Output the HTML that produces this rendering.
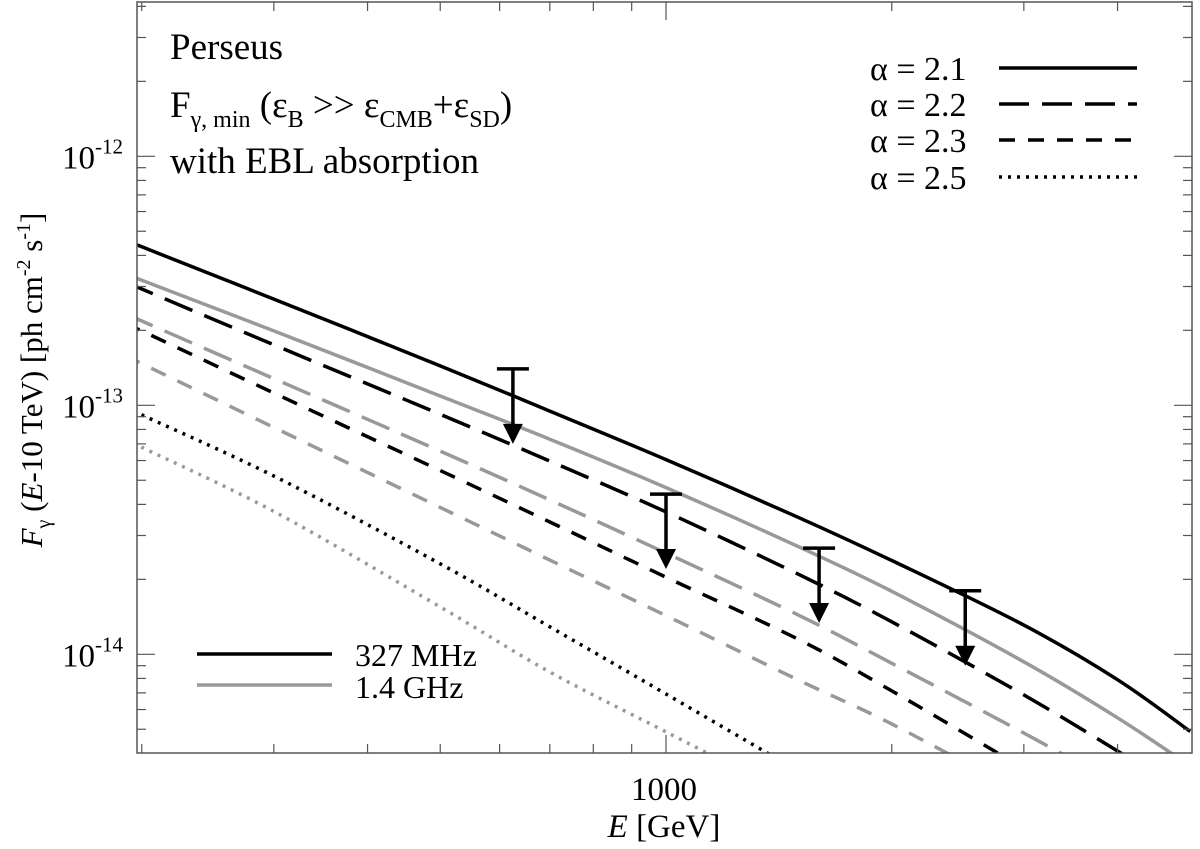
<!DOCTYPE html>
<html><head><meta charset="utf-8"><style>
html,body{margin:0;background:#fff;overflow:hidden;width:1200px;height:849px;}
svg{display:block;font-family:"Liberation Serif",serif;}
</style></head><body>
<svg id="chart" width="1200" height="849">
<g id="curves"></g>
<g id="limits"></g>
<g id="axes"></g>
<g font-size="37">
<text x="170" y="59">Perseus</text>
<text x="170" y="117">F<tspan font-size="24" dy="10">γ, min</tspan><tspan dy="-10"> (ε</tspan><tspan font-size="24" dy="10">B</tspan><tspan dy="-10"> &gt;&gt; ε</tspan><tspan font-size="24" dy="10">CMB</tspan><tspan dy="-10">+ε</tspan><tspan font-size="24" dy="10">SD</tspan><tspan dy="-10">)</tspan></text>
<text x="170" y="173">with EBL absorption</text>
</g>
<g font-size="34" stroke-width="3.5">
<g><text x="870" y="80">α = 2.1</text><line x1="999" y1="68" x2="1137" y2="68" stroke="#000"/></g>
<g><text x="870" y="116">α = 2.2</text><line x1="999" y1="104" x2="1137" y2="104" stroke="#000" stroke-dasharray="30 13"/></g>
<g><text x="870" y="152">α = 2.3</text><line x1="999" y1="140" x2="1137" y2="140" stroke="#000" stroke-dasharray="16 13"/></g>
<g><text x="870" y="189">α = 2.5</text><line x1="999" y1="177" x2="1137" y2="177" stroke="#000" stroke-dasharray="3 6"/></g>
</g>
<g font-size="32" stroke-width="3.5">
<g><line x1="197" y1="654" x2="332" y2="654" stroke="#000"/><text x="355" y="666">327 MHz</text></g>
<g><line x1="197" y1="685" x2="332" y2="685" stroke="#999"/><text x="355" y="698">1.4 GHz</text></g>
</g>
<text x="664" y="800" font-size="33" text-anchor="middle">1000</text>
<text x="664" y="837" font-size="33" text-anchor="middle"><tspan font-style="italic">E</tspan> [GeV]</text>
<text transform="translate(42,380) rotate(-90)" font-size="31" text-anchor="middle"><tspan font-style="italic">F</tspan><tspan font-size="20" dy="8">γ</tspan><tspan dy="-8"> (</tspan><tspan font-style="italic">E</tspan>-10 TeV) [ph cm<tspan font-size="20" dy="-12">-2</tspan><tspan dy="12"> s</tspan><tspan font-size="20" dy="-12">-1</tspan><tspan dy="12">]</tspan></text>
</svg>
<script>
const energies=[200,300,500,700,1000,1500,2000,3000,4000,5000];
const sol327=[4.33e-13,2.67e-13,1.44e-13,9.48e-14,6.05e-14,3.55e-14,2.38e-14,1.31e-14,7.91e-15,4.90e-15];
const sol14=[3.18e-13,1.99e-13,1.09e-13,7.31e-14,4.67e-14,2.71e-14,1.79e-14,9.33e-15,5.56e-15,3.56e-15];
const ld327=[2.93e-13,1.75e-13,9.2e-14,5.97e-14,3.73e-14,2.10e-14,1.35e-14,6.87e-15,4.09e-15,2.70e-15];
const ld14=[2.18e-13,1.28e-13,6.55e-14,4.17e-14,2.55e-14,1.44e-14,9.2e-15,4.83e-15,2.99e-15,2.07e-15];
const sd327=[1.99e-13,1.12e-13,5.47e-14,3.40e-14,2.04e-14,1.15e-14,7.13e-15,3.48e-15,2.07e-15,1.40e-15];
const sd14=[1.47e-13,8.15e-14,3.89e-14,2.39e-14,1.43e-14,7.89e-15,5.25e-15,2.72e-15,1.64e-15,1.08e-15];
const dot327=[9.15e-14,5.2e-14,2.31e-14,1.29e-14,6.93e-15,3.40e-15,2.05e-15,9.9e-16,5.9e-16,4.1e-16];
const dot14=[6.78e-14,3.75e-14,1.55e-14,8.49e-15,4.88e-15,2.60e-15,1.64e-15,8.6e-16,5.4e-16,3.7e-16];
const limitE=[625,1000,1600,2506];
const limitF=[1.40e-13,4.40e-14,2.67e-14,1.80e-14];
const NS='http://www.w3.org/2000/svg';
const L=137,R=1192,T=2,B=753;
function xs(e){return 666+750*(Math.log10(e)-3);}
function ys(f){return 405.3-249*(Math.log10(f)+13);}
function mk(tag,at,parent){const el=document.createElementNS(NS,tag);for(const k in at)el.setAttribute(k,at[k]);parent.appendChild(el);return el;}
const svg=document.getElementById('chart');
const defs=mk('defs',{},svg);
const cp=mk('clipPath',{id:'clip'},defs);
mk('rect',{x:L,y:T,width:R-L,height:B-T},cp);
const cg=document.getElementById('curves');
cg.setAttribute('clip-path','url(#clip)');
const series=[[sol327,'#000',''],[sol14,'#999',''],[ld327,'#000','30 13'],[ld14,'#999','30 13'],[sd327,'#000','16 13'],[sd14,'#999','16 13'],[dot327,'#000','3 6'],[dot14,'#999','3 6']];
const names=['curve-327mhz-a2.1','curve-1.4ghz-a2.1','curve-327mhz-a2.2','curve-1.4ghz-a2.2','curve-327mhz-a2.3','curve-1.4ghz-a2.3','curve-327mhz-a2.5','curve-1.4ghz-a2.5'];
series.forEach((s,i)=>{
  const pts=energies.map((e,j)=>[xs(e),ys(s[0][j])]);
  const sl=(pts[1][1]-pts[0][1])/(pts[1][0]-pts[0][0]);
  pts.unshift([L-4,pts[0][1]+sl*(L-4-pts[0][0])]);
  let d='M'+pts[0][0].toFixed(1)+','+pts[0][1].toFixed(1);
  for(let k=0;k<pts.length-1;k++){
    const p0=pts[Math.max(0,k-1)],p1=pts[k],p2=pts[k+1],p3=pts[Math.min(pts.length-1,k+2)];
    const c1=[p1[0]+(p2[0]-p0[0])/6,p1[1]+(p2[1]-p0[1])/6];
    const c2=[p2[0]-(p3[0]-p1[0])/6,p2[1]-(p3[1]-p1[1])/6];
    d+=' C'+c1[0].toFixed(1)+','+c1[1].toFixed(1)+' '+c2[0].toFixed(1)+','+c2[1].toFixed(1)+' '+p2[0].toFixed(1)+','+p2[1].toFixed(1);
  }
  const p=mk('path',{d:d,fill:'none',stroke:s[1],'stroke-width':3.5},cg);
  if(s[2])p.setAttribute('stroke-dasharray',s[2]);
  
  
});
const lg=document.getElementById('limits');
limitE.forEach((e,i)=>{
  const x=xs(e),y0=ys(limitF[i]),y1=ys(limitF[i]*0.5);
  const g=mk('g',{},lg);
  
  
  mk('line',{x1:x-16,y1:y0,x2:x+16,y2:y0,stroke:'#000','stroke-width':3.5},g);
  mk('line',{x1:x,y1:y0,x2:x,y2:y1-14,stroke:'#000','stroke-width':3.5},g);
  mk('polygon',{points:(x-10)+','+(y1-20)+' '+(x+10)+','+(y1-20)+' '+x+','+y1,fill:'#000'},g);
});
const ax=document.getElementById('axes');
const frame=mk('rect',{x:L,y:T,width:R-L,height:B-T,fill:'none',stroke:'#555','stroke-width':1.5},ax);


function tick(x1,y1,x2,y2){mk('line',{x1:x1,y1:y1,x2:x2,y2:y2,stroke:'#555','stroke-width':1.2},ax);}
[200,300,400,500,600,700,800,900,1000,2000,3000,4000,5000].forEach(e=>{
  const x=xs(e);if(x<L+3||x>R-3)return;const len=e===1000?18:9;
  tick(x,B,x,B-len);tick(x,T,x,T+len);
});
for(let p=-15;p<=-11;p++)for(let m=1;m<10;m++){
  const y=ys(m*Math.pow(10,p));if(y<T+3||y>B-3)continue;const len=m===1?18:9;
  tick(L,y,L+len,y);tick(R,y,R-len,y);
}
[-12,-13,-14].forEach(p=>{
  const t=mk('text',{x:62,y:ys(Math.pow(10,p))+12,'font-size':33},ax);
  
  
  t.textContent='10';
  const s=mk('tspan',{'font-size':21,dy:-15},t);s.textContent=String(p);
});
</script>
</body></html>
